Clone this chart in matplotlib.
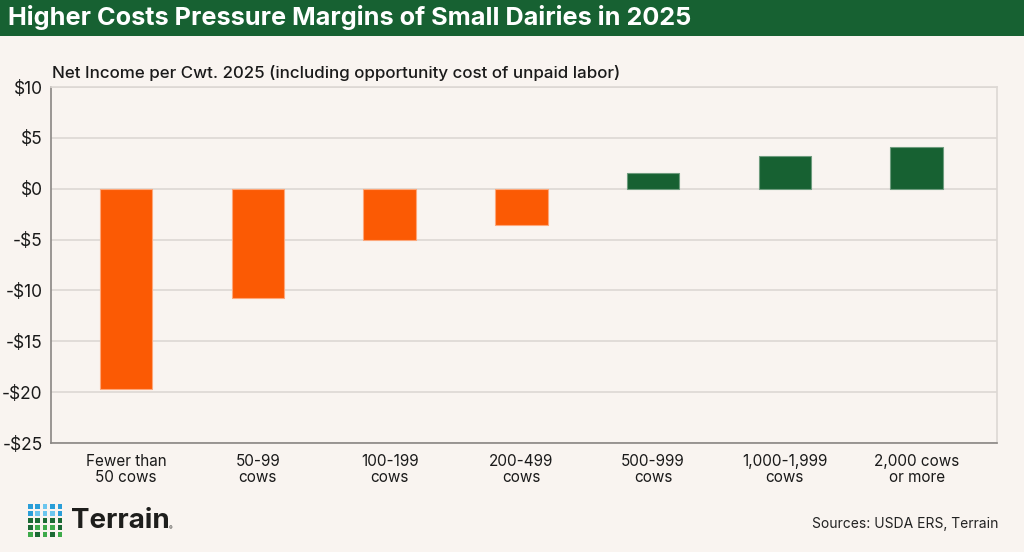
import matplotlib.pyplot as plt
from matplotlib.patches import Rectangle
import numpy as np

# ----------------------------- DATA -----------------------------
categories = ["Fewer than\n50 cows", "50-99\ncows", "100-199\ncows", "200-499\ncows",
              "500-999\ncows", "1,000-1,999\ncows", "2,000 cows\nor more"]
net_income = [-19.7, -10.7, -5.0, -3.6, 1.5, 3.2, 4.1]
y_ticks = [10, 5, 0, -5, -10, -15, -20, -25]
y_tick_labels = ["$10", "$5", "$0", "-$5", "-$10", "-$15", "-$20", "-$25"]

# ----------------------------- STYLE -----------------------------
BG = "#F9F4F0"
GREEN = "#176132"
ORANGE = "#FB5A04"
GRID = "#DDD8D4"
plt.rcParams["font.family"] = ["Inter", "DejaVu Sans"]

fig = plt.figure(figsize=(10.24, 5.52), dpi=100, facecolor=BG)

# header band
fig.patches.append(Rectangle((0, 1 - 36 / 552), 1, 36 / 552, transform=fig.transFigure,
                             facecolor=GREEN, edgecolor="none", zorder=0))
fig.text(8 / 1024, 1 - 18 / 552, "Higher Costs Pressure Margins of Small Dairies in 2025",
         color="white", fontsize=18.2, fontweight="bold", va="center", ha="left")

ax = fig.add_axes([51 / 1024, 1 - 443 / 552, (997 - 51) / 1024, (443 - 87) / 552])
ax.set_facecolor(BG)

x = np.arange(len(categories))
colors = [GREEN if v > 0 else ORANGE for v in net_income]
edges = ["#6E9C7E" if v > 0 else "#FDA77A" for v in net_income]
ax.bar(x, net_income, width=0.4, color=colors, edgecolor=edges, linewidth=0.8, zorder=3)

ax.set_ylim(-25, 10)
ax.set_xlim(-0.57, 6.61)
ax.set_yticks(y_ticks)
ax.set_yticklabels(y_tick_labels, fontsize=12.5, color="#1A1A1A")
ax.set_xticks(x)
ax.set_xticklabels(categories, fontsize=11, color="#1A1A1A", linespacing=1.1)
ax.tick_params(axis="both", length=0)
ax.tick_params(axis="y", pad=6)
ax.tick_params(axis="x", pad=8)

ax.yaxis.grid(True, color=GRID, linewidth=1.2, zorder=0)
ax.set_axisbelow(True)
for s in ["top", "right"]:
    ax.spines[s].set_color(GRID)
    ax.spines[s].set_linewidth(1.2)
for s in ["left", "bottom"]:
    ax.spines[s].set_color("#8A8683")
    ax.spines[s].set_linewidth(1.2)

fig.text(52 / 1024, 1 - 73 / 552,
         "Net Income per Cwt. 2025 (including opportunity cost of unpaid labor)",
         fontsize=12.2, fontweight="medium", color="#1A1A1A", va="center", ha="left")

# logo
logo_colors = [
    ["#2A9ED8", "#2A9ED8", "#6CC6EE", "#2A9ED8", "#2A9ED8"],
    ["#2A9ED8", "#6CC6EE", "#6CC6EE", "#6CC6EE", "#2A9ED8"],
    ["#1B6A34", "#1B6A34", "#1B6A34", "#1B6A34", "#1B6A34"],
    ["#1B6A34", "#3DAA4A", "#3DAA4A", "#3DAA4A", "#1B6A34"],
    ["#3DAA4A", "#1B6A34", "#3DAA4A", "#1B6A34", "#3DAA4A"],
]
for r, row in enumerate(logo_colors):
    for c, col in enumerate(row):
        px = 28 + c * 7.4
        py = 504 + r * 7.0
        fig.patches.append(Rectangle((px / 1024, 1 - (py + 4.5) / 552), 4.5 / 1024, 4.5 / 552,
                                     transform=fig.transFigure, facecolor=col, edgecolor="none"))
fig.text(71 / 1024, 1 - 521 / 552, "Terrain", fontsize=20, fontweight="bold",
         color="#1E1E1C", va="center", ha="left")
fig.text(169 / 1024, 1 - 529 / 552, "®", fontsize=4, color="#1E1E1C", va="center", ha="left")

fig.text(998 / 1024, 1 - 524 / 552, "Sources: USDA ERS, Terrain", fontsize=10,
         color="#222222", va="center", ha="right")

fig.savefig("out.png", dpi=100, facecolor=BG)
